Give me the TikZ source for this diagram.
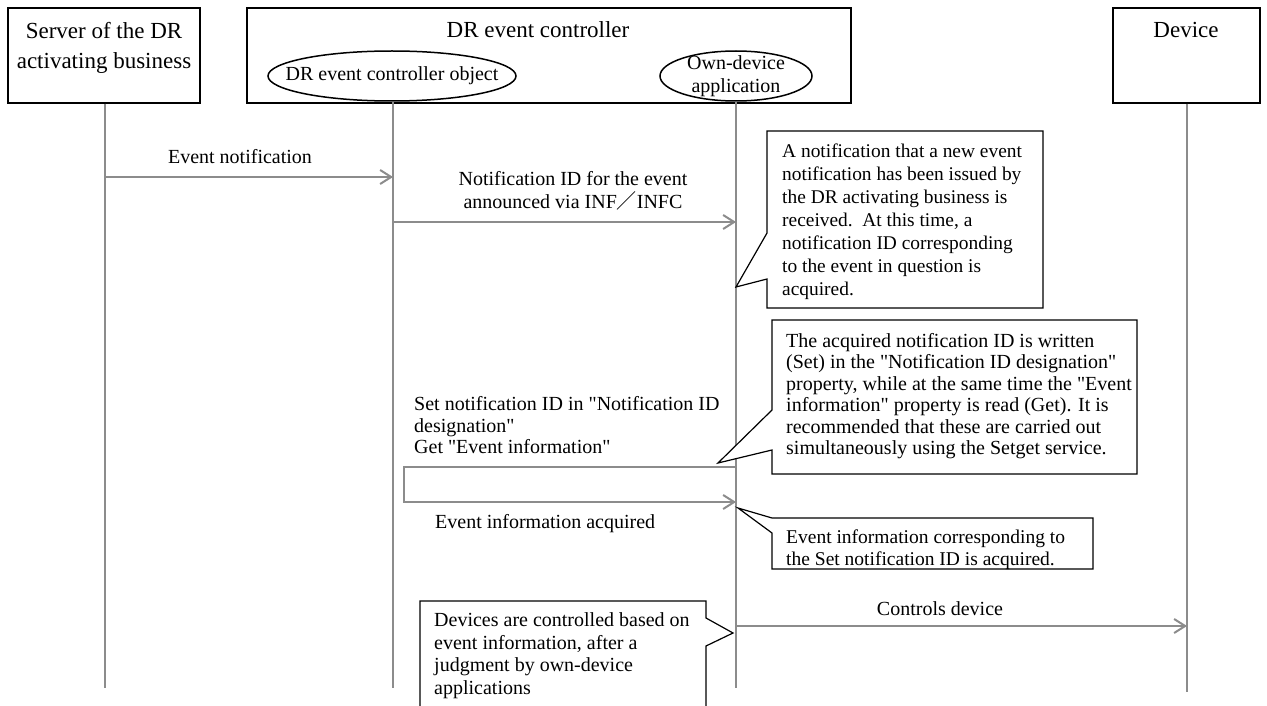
\documentclass[tikz,border=0pt]{standalone}
\usepackage{fontspec}
\setmainfont{Liberation Serif}
\newfontfamily\cjk{Noto Sans CJK SC}
\font\plainq="Liberation Serif" at 20pt
\newcommand\dq{{\plainq\char34}}
\usetikzlibrary{arrows.meta,shapes.geometric}
\definecolor{lifegray}{HTML}{8C8C8C}
\tikzset{
  box/.style={draw=black,line width=1.5pt,fill=white,inner sep=0},
  oval/.style={ellipse,draw=black,line width=1.5pt,fill=white,inner sep=0},
  ovaltext/.style={inner sep=0,align=center,font=\fontsize{20}{23}\selectfont},
  life/.style={draw=lifegray,line width=2.2pt},
  msg/.style={draw=lifegray,line width=2.2pt,-{Straight Barb[length=11pt,width=14pt,line width=2pt]}},
  callout/.style={draw=black,line width=1.2pt,fill=white,line join=miter},
  title/.style={font=\fontsize{23}{30}\selectfont,inner sep=0,align=center},
  body/.style={font=\fontsize{20}{23}\selectfont,inner sep=0,align=left,anchor=north west},
  lbl/.style={font=\fontsize{20}{23}\selectfont,inner sep=0,align=center},
}
\begin{document}
\begin{tikzpicture}[x=1pt,y=-1pt]
\useasboundingbox (0,0) rectangle (1267,706);

% participant boxes
\node[box,minimum width=192pt,minimum height=95pt] (srv) at (104,55.5) {};
\node[box,minimum width=604pt,minimum height=95pt] (ctl) at (549,55.5) {};
\node[box,minimum width=147pt,minimum height=95pt] (dev) at (1186.5,55.5) {};
\node[title,anchor=north] (srvtxt) at (104,22.3) {Server of the DR\\activating business};
\node[title,anchor=base] (ctltxt) at (538,38) {DR event controller};
\node[title,anchor=base] (devtxt) at (1186,38) {Device};
\node[oval,minimum width=248pt,minimum height=50pt] (obj) at (392,76) {};
\node[ovaltext] (objtxt) at (obj.center) {DR event controller object};
\node[oval,minimum width=152pt,minimum height=50pt] (app) at (736,76) {};
\node[ovaltext] (apptxt) at (app.center) {Own-device\\application};

% lifeline ends
\coordinate (srvB) at (105,688);
\coordinate (objB) at (393,688);
\coordinate (appB) at (736,688);
\coordinate (devB) at (1187,692);
\draw[life] (srv.south -| srvB) -- (srvB);
\draw[life] (obj.south -| objB) -- (objB);
\draw[life] (app.south) -- (appB);
\draw[life] (dev.south -| devB) -- (devB);

% messages
\coordinate (m1s) at (105,177);
\coordinate (m1e) at (393,177);
\draw[msg] (m1s) -- (m1e);
\node[lbl,anchor=base] (m1l) at (240,164) {Event notification};

\coordinate (m2s) at (393,222);
\coordinate (m2e) at (736,222);
\draw[msg] (m2s) -- (m2e);
\node[lbl,anchor=north] (m2l) at (573,171.3) {Notification ID for the event\\announced via INF{\cjk ／}INFC};

\coordinate (m3s) at (736,467);
\coordinate (m3a) at (404,467);
\coordinate (m3b) at (404,502);
\coordinate (m3e) at (736,502);
\draw[msg] (m3s) -- (m3a) -- (m3b) -- (m3e);
\node[body,font=\fontsize{20}{21.5}\selectfont] (m3l) at (414,396.3) {Set notification ID in \dq Notification ID\\designation\dq\\Get \dq Event information\dq};
\node[lbl,anchor=base west] (m3r) at (435,528) {Event information acquired};

\coordinate (m4s) at (736,626);
\coordinate (m4e) at (1187,626);
\draw[msg] (m4s) -- (m4e);
\node[lbl,anchor=base] (m4l) at (940,615) {Controls device};

% callouts
\coordinate (tip1) at (736,287);
\draw[callout] (767,131) -- (1043,131) -- (1043,308) -- (767,308) -- (767,279) -- (tip1) -- (767,233) -- cycle;
\node[body,font=\fontsize{19.4}{23}\selectfont] (c1) at (782,143.6) {A notification that a new event\\notification has been issued by\\the DR activating business is\\received.\ \ At this time, a\\notification ID corresponding\\to the event in question is\\acquired.};

\coordinate (tip2) at (718,463);
\draw[callout] (772,320) -- (1137,320) -- (1137,474) -- (772,474) -- (772,450) -- (tip2) -- (772,410) -- cycle;
\node[body,font=\fontsize{20}{21.4}\selectfont] (c2) at (786,333.3) {The acquired notification ID is written\\(Set) in the \dq Notification ID designation\dq\\property, while at the same time the \dq Event\\information\dq\ property is read (Get). It is\\recommended that these are carried out\\simultaneously using the Setget service.};

\coordinate (tip3) at (738,508);
\draw[callout] (772,518) -- (1093,518) -- (1093,569) -- (772,569) -- (772,533) -- (tip3) -- cycle;
\node[body,font=\fontsize{19.5}{22}\selectfont] (c3) at (786,529.6) {Event information corresponding to\\the Set notification ID is acquired.};

\coordinate (tip4) at (733,633);
\draw[callout] (420,712) -- (420,601) -- (706,601) -- (706,618) -- (tip4) -- (706,646) -- (706,712);
\node[body,font=\fontsize{20}{22.7}\selectfont] (c4) at (434,612.3) {Devices are controlled based on\\event information, after a\\judgment by own-device\\applications};
\end{tikzpicture}
\end{document}
